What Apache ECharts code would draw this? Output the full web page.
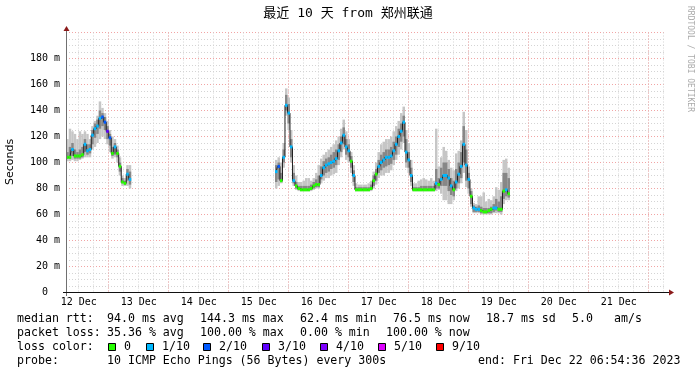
<!DOCTYPE html>
<html><head><meta charset="utf-8">
<script src="https://cdn.jsdelivr.net/npm/echarts@6/dist/echarts.min.js"></script>
<style>html,body{margin:0;padding:0;background:#fff}#c{width:697px;height:375px}</style>
</head><body><div id="c"></div>
<script>
// time in hours since 12 Dec 2023 00:00; one reading per hour
const axisStartHour = 6.91;   // 12 Dec 06:54:36
const axisEndHour = 246.91;   // 22 Dec 06:54:36
const dayLabels = ['12 Dec','13 Dec','14 Dec','15 Dec','16 Dec','17 Dec','18 Dec','19 Dec','20 Dec','21 Dec'];
const dayLabelHours = [12,36,60,84,108,132,156,180,204,228];
const midnightHours = [24,48,72,96,120,144,168,192,216,240];

// segment 1
const seg1Start = 7.5;
const seg1Median  = [104,104,110,105,105,105,106,114,109,110,121,126,128,134,135,131,124,119,107,112,107,97,85,84,91,87];
const seg1Loss    = [0,0,1,0,0,0,0,1,1,1,1,1,1,1,2,2,3,2,0,1,0,0,0,0,1,1];
const seg1OuterLo = [101,101,102,101,101,102,103,104,104,104,110,112,115,118,120,118,114,108,103,104,100,90,82,82,82,80];
const seg1OuterHi = [118,126,124,122,118,124,122,124,122,118,128,132,136,147,142,138,132,125,120,118,113,104,90,88,98,98];
const seg1InnerLo = [103,103,105,103,103,103,104,108,106,107,114,119,122,126,128,125,118,113,105,106,104,93,84,83,86,83];
const seg1InnerHi = [108,112,115,110,108,110,112,118,114,114,125,130,133,140,138,135,128,122,112,115,110,100,88,86,95,93];

// segment 2
const seg2Start = 91;
const seg2Median = [93,97,86,104,144,138,112,86,82,80,79,79,79,79,80,82,83,83,90,96,98,99,100,101,103,109,115,121,112,109,101,90,79,79,79,79,79,79,80,86,91,97,100,102,104,104,105,109,114,120,124,131,108,102,90,79,79,79,79,79,79,79,79,79,84,83,87,90,90,88,82,79,85,91,97,114,98,87,74,65,64,64,63,62,62,63,64,65,65,64,64,78,79,76];
const seg2Loss   = [1,2,0,1,1,1,1,1,0,0,0,0,0,0,0,0,0,0,1,1,1,1,1,1,1,1,1,1,1,1,0,1,0,0,0,0,0,0,0,0,0,1,1,1,1,1,1,1,1,1,1,1,1,1,1,0,0,0,0,0,0,0,0,0,1,0,1,1,1,1,1,0,1,1,1,1,1,1,0,1,1,1,0,0,0,0,0,1,1,0,0,0,1,0];
const seg2OuterLo = [80,82,84,96,136,125,100,82,79,78,78,78,78,78,78,79,80,80,84,86,88,88,90,91,92,98,104,110,102,100,92,82,78,78,78,78,78,78,78,80,83,88,90,90,92,92,94,98,102,106,110,115,96,92,82,78,78,78,78,78,78,78,78,78,78,79,76,71,71,68,68,71,78,80,84,92,81,76,66,61,61,61,60,60,60,60,60,61,61,61,60,68,71,71];
const seg2OuterHi = [102,104,100,115,157,150,125,98,90,85,85,86,88,88,86,88,92,98,103,106,108,110,112,114,117,120,126,133,124,118,108,98,84,83,83,83,83,84,86,93,100,108,114,116,118,118,120,124,128,132,138,143,125,115,102,84,84,86,87,88,87,86,88,86,126,97,104,112,109,102,96,94,107,109,117,139,125,97,80,69,68,74,74,77,70,72,71,74,81,79,85,102,103,96];
const seg2InnerLo = [85,87,85,100,140,130,104,84,80,79,78,78,78,78,79,80,81,81,87,90,92,93,95,96,98,102,108,114,106,104,96,85,78,78,78,78,78,78,79,82,86,92,94,96,97,98,99,102,106,112,116,120,100,96,85,78,78,78,78,78,78,78,78,78,80,80,82,82,82,78,75,74,80,84,88,100,86,80,68,62,62,62,61,61,61,61,61,62,63,62,62,72,74,73];
const seg2InnerHi = [98,100,92,110,152,145,118,92,85,82,82,82,82,82,83,85,87,90,97,101,103,104,106,108,110,114,120,127,118,114,105,94,81,81,81,81,81,81,83,90,95,102,106,108,110,110,112,116,120,126,130,136,118,108,96,81,81,81,82,82,82,82,82,82,95,88,96,100,100,95,88,86,95,100,108,128,110,92,78,67,66,67,66,65,65,65,66,68,72,70,74,92,92,88];

const lossColors = {0:'#26ff00',1:'#00b8ff',2:'#0059ff',3:'#5e00ff',4:'#7e00ff',5:'#dd00ff',9:'#ff0000'};
const legendLoss = [['0',0],['1/10',1],['2/10',2],['3/10',3],['4/10',4],['5/10',5],['9/10',9]];

function rows(start, a, b) {
  return a.map((v, i) => [start + i, v, b[i]]);
}
const outerData = rows(seg1Start, seg1OuterLo, seg1OuterHi).concat(rows(seg2Start, seg2OuterLo, seg2OuterHi));
const innerData = rows(seg1Start, seg1InnerLo, seg1InnerHi).concat(rows(seg2Start, seg2InnerLo, seg2InnerHi));
const med1 = seg1Median.map((v, i) => [seg1Start + i, v]);
const med2 = seg2Median.map((v, i) => [seg2Start + i, v]);
const lossData = rows(seg1Start, seg1Median, seg1Loss).concat(rows(seg2Start, seg2Median, seg2Loss));

const sixHourGrid = [];
for (let h = 12; h <= 246; h += 6) sixHourGrid.push(h);

function bandSeries(data, color) {
  return {
    type: 'custom', data: data, z: 2, silent: true,
    encode: {x: 0, y: [1, 2]},
    renderItem: function (params, api) {
      const h = api.value(0), lo = api.value(1), hi = api.value(2);
      const p1 = api.coord([h - 0.5, hi]);
      const p2 = api.coord([h + 0.5, lo]);
      return {type: 'rect', shape: {x: p1[0], y: p1[1], width: p2[0] - p1[0], height: Math.max(1, p2[1] - p1[1])}, style: {fill: color}};
    }
  };
}

const mono = '"DejaVu Sans Mono", "Noto Sans CJK SC", monospace';
const chart = echarts.init(document.getElementById('c'), null, {renderer: 'canvas'});

const graphic = [];
function txt(x, y, s) {
  graphic.push({type: 'text', x: x, y: y, silent: true,
    style: {text: s, font: '11.6px ' + mono, fill: '#000', align: 'left', verticalAlign: 'middle'}});
}
txt(17, 319, 'median rtt:'); txt(107, 319, '94.0 ms avg'); txt(200, 319, '144.3 ms max'); txt(300, 319, '62.4 ms min');
txt(393, 319, '76.5 ms now'); txt(486, 319, '18.7 ms sd'); txt(572, 319, '5.0'); txt(614, 319, 'am/s');
txt(17, 333, 'packet loss:'); txt(107, 333, '35.36 % avg'); txt(200, 333, '100.00 % max'); txt(300, 333, '0.00 % min'); txt(386, 333, '100.00 % now');
txt(17, 347, 'loss color:');
const boxX = [108, 146, 203, 262, 320, 378, 436];
legendLoss.forEach((it, i) => {
  graphic.push({type: 'rect', silent: true, shape: {x: boxX[i] + 0.5, y: 343.5, width: 7, height: 7}, style: {fill: lossColors[it[1]], stroke: '#000', lineWidth: 1}});
  txt(boxX[i] + 16, 347, it[0]);
});
txt(17, 361, 'probe:'); txt(107, 361, '10 ICMP Echo Pings (56 Bytes) every 300s'); txt(478, 361, 'end: Fri Dec 22 06:54:36 2023');
graphic.push({type: 'text', x: 348, y: 14, silent: true, style: {text: '最近 10 天 from 郑州联通', font: '13px ' + mono, fill: '#000', align: 'center', verticalAlign: 'middle'}});
graphic.push({type: 'text', x: 690, y: 59, rotation: -Math.PI / 2, silent: true, style: {text: 'RRDTOOL / TOBI OETIKER', font: '8px ' + mono, fill: '#aaaaaa', align: 'center', verticalAlign: 'middle'}});
graphic.push({type: 'text', x: 10, y: 162, rotation: Math.PI / 2, silent: true, style: {text: 'Seconds', font: '11px "DejaVu Sans", sans-serif', fill: '#000', align: 'center', verticalAlign: 'middle'}});
graphic.push({type: 'line', silent: true, z: 10, shape: {x1: 66.5, y1: 296, x2: 66.5, y2: 30}, style: {stroke: '#707070', lineWidth: 1}});
graphic.push({type: 'line', silent: true, z: 10, shape: {x1: 63, y1: 292.5, x2: 670, y2: 292.5}, style: {stroke: '#111', lineWidth: 1}});
graphic.push({type: 'polygon', silent: true, z: 11, shape: {points: [[63.5, 31], [69.5, 31], [66.5, 26]]}, style: {fill: '#8b1a1a'}});
graphic.push({type: 'polygon', silent: true, z: 11, shape: {points: [[669, 289.5], [669, 295.5], [674, 292.5]]}, style: {fill: '#8b1a1a'}});

const minorLine = {show: true, lineStyle: {color: '#d4d4d4', type: [1, 2], width: 1}};
const majorLine = {show: true, lineStyle: {color: '#f2a4a4', type: [1, 2], width: 1}};
const option = {
  animation: false,
  backgroundColor: '#ffffff',
  grid: {left: 66, top: 32.5, width: 600, height: 260},
  graphic: graphic,
  xAxis: [
    {type: 'value', position: 'bottom', min: axisStartHour, max: axisEndHour, axisLine: {show: false},
     axisTick: {show: false, customValues: sixHourGrid}, axisLabel: {show: false}, splitLine: minorLine},
    {type: 'value', position: 'bottom', min: axisStartHour, max: axisEndHour, axisLine: {show: false},
     axisTick: {show: false, customValues: midnightHours},
     axisLabel: {show: true, customValues: dayLabelHours, margin: 5, fontFamily: mono, fontSize: 10, color: '#000',
       formatter: function (v) { return dayLabels[dayLabelHours.indexOf(Math.round(v))] || ''; }},
     splitLine: majorLine}
  ],
  yAxis: [
    {type: 'value', position: 'left', min: 0, max: 200, interval: 5, axisLine: {show: false}, axisTick: {show: false}, axisLabel: {show: false},
     splitLine: minorLine},
    {type: 'value', position: 'left', min: 0, max: 200, interval: 20, axisLine: {show: false}, axisTick: {show: false},
     axisLabel: {show: true, margin: 6, fontFamily: mono, fontSize: 10, color: '#000',
       formatter: function (v) { return v === 0 ? '0  ' : (v >= 200 ? '' : v + ' m'); }},
     splitLine: majorLine}
  ],
  series: [
    Object.assign(bandSeries(outerData, '#c6c6c6'), {xAxisIndex: 0, yAxisIndex: 1}),
    Object.assign(bandSeries(innerData, '#878787'), {xAxisIndex: 0, yAxisIndex: 1}),
    {type: 'line', data: med1, step: 'middle', showSymbol: false, z: 3, xAxisIndex: 0, yAxisIndex: 1, lineStyle: {color: '#1e1e1e', width: 1}, silent: true},
    {type: 'line', data: med2, step: 'middle', showSymbol: false, z: 3, xAxisIndex: 0, yAxisIndex: 1, lineStyle: {color: '#1e1e1e', width: 1}, silent: true},
    {type: 'custom', data: lossData, z: 4, silent: true, xAxisIndex: 0, yAxisIndex: 1, encode: {x: 0, y: 1},
     renderItem: function (params, api) {
       const h = api.value(0), v = api.value(1), l = api.value(2);
       const p1 = api.coord([h - 0.5, v]);
       const p2 = api.coord([h + 0.5, v]);
       return {type: 'rect', shape: {x: p1[0], y: p1[1] - 1.5, width: p2[0] - p1[0], height: 3}, style: {fill: lossColors[l]}};
     }}
  ]
};
chart.setOption(option);
</script>
</body></html>
